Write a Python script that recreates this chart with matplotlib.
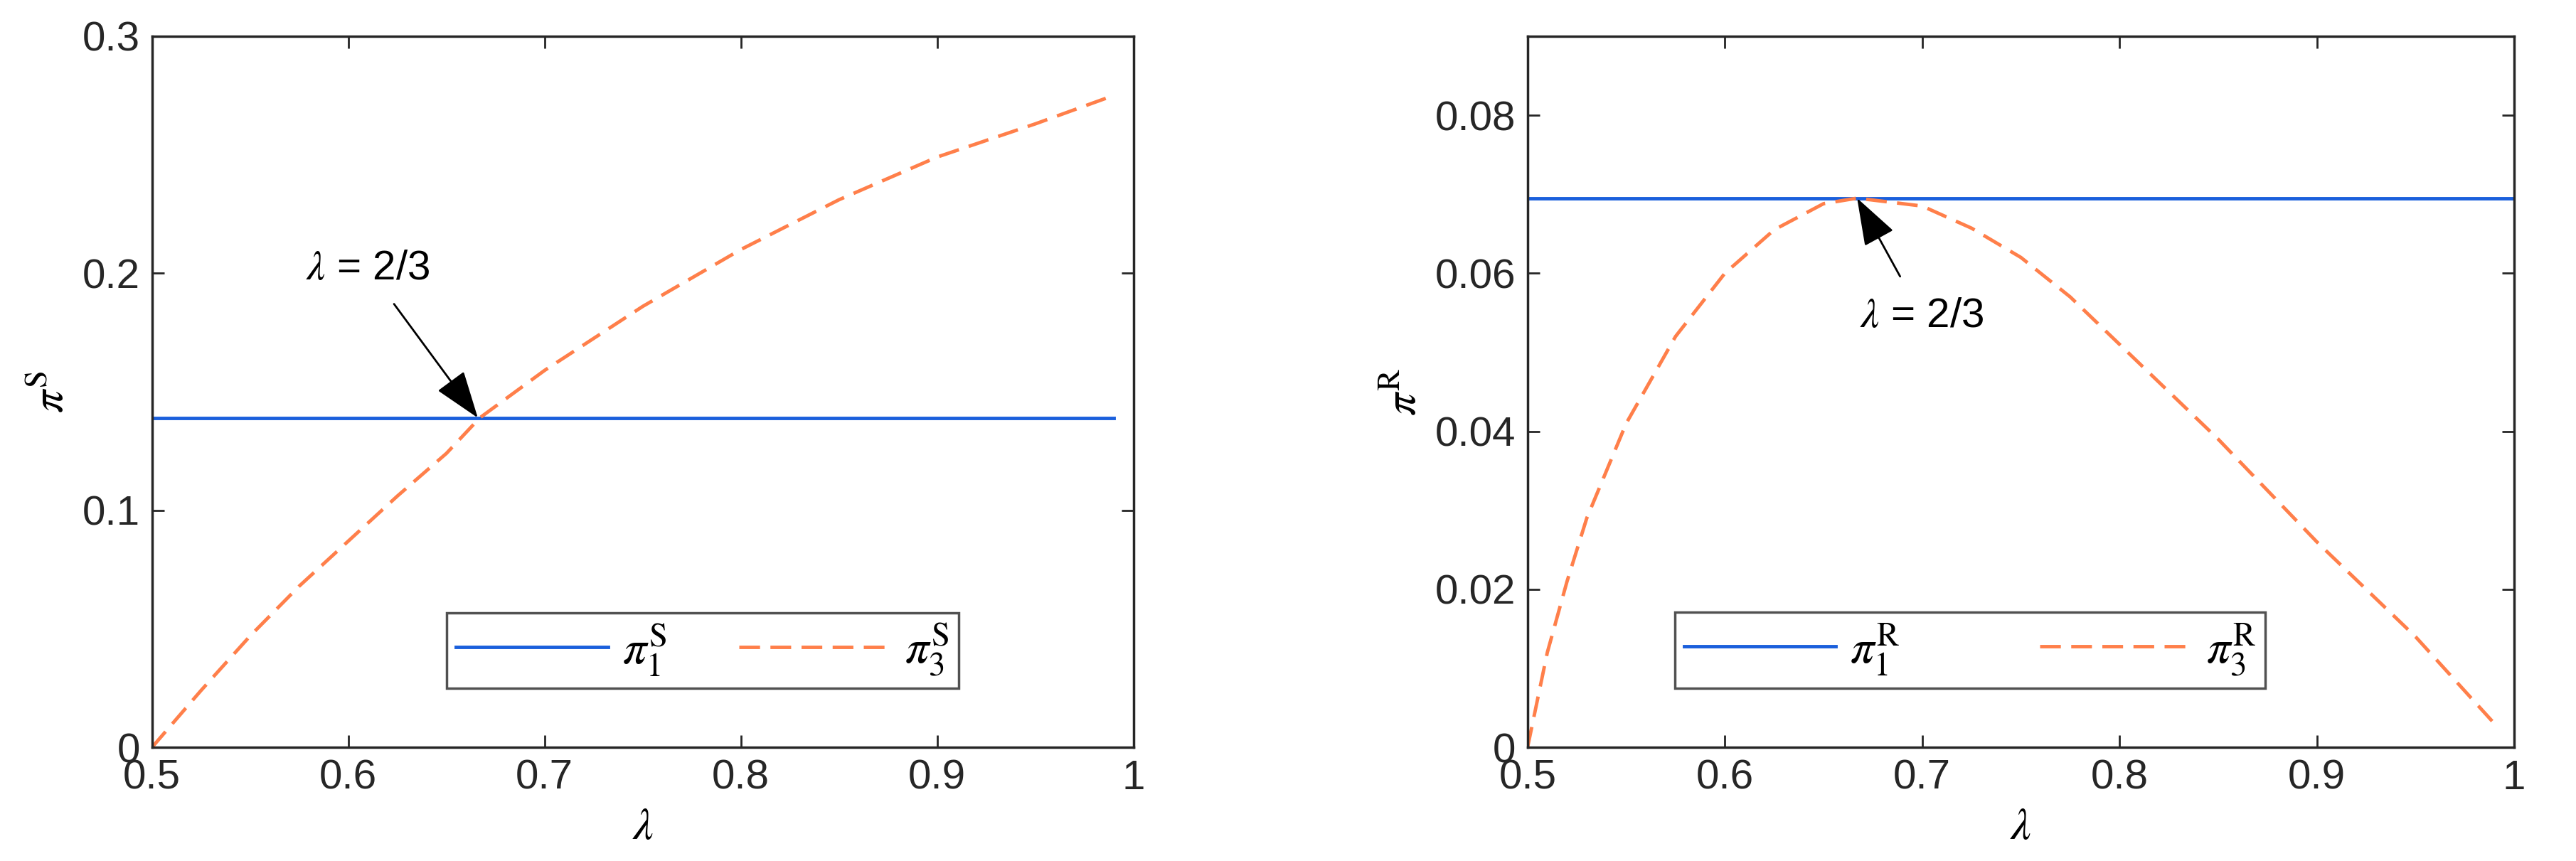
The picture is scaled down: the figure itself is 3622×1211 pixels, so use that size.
import matplotlib
matplotlib.use("Agg")
import matplotlib.pyplot as plt

lamS = [0.5, 0.525, 0.55, 0.575, 0.6, 0.625, 0.65, 0.667, 0.7, 0.75, 0.8, 0.85, 0.9, 0.95, 0.99]
piS1 = 0.139
piS3 = [0.0, 0.024, 0.047, 0.068, 0.087, 0.106, 0.124, 0.139, 0.159, 0.186, 0.210, 0.231, 0.249, 0.263, 0.275]
lamR = [0.5, 0.51, 0.52, 0.53, 0.55, 0.575, 0.6, 0.625, 0.65, 0.667, 0.7, 0.725, 0.75, 0.775, 0.8, 0.85, 0.9, 0.95, 0.99]
piR1 = 0.0695
piR3 = [0.0, 0.012, 0.021, 0.029, 0.041, 0.052, 0.060, 0.0655, 0.0688, 0.0695, 0.0685, 0.0657, 0.062, 0.057, 0.051, 0.039, 0.026, 0.014, 0.003]

blue = '#1a5fdc'
orange = '#ff7f4a'
tick_fs = 42
plt.rcParams['font.family'] = ['Liberation Sans', 'DejaVu Sans']
plt.rcParams['mathtext.fontset'] = 'stix'

fig = plt.figure(figsize=(36.22, 12.11), dpi=100)
axL = fig.add_axes([0.059, 0.132, 0.381, 0.826])
axR = fig.add_axes([0.593, 0.132, 0.383, 0.826])

def style(ax, yticks, ylim, ylabel, lgpos, labels):
    ax.set_xlim(0.5, 1)
    ax.set_ylim(*ylim)
    ax.set_xticks([0.5, 0.6, 0.7, 0.8, 0.9, 1])
    ax.set_xticklabels(['0.5', '0.6', '0.7', '0.8', '0.9', '1'])
    ax.set_yticks(yticks)
    ax.tick_params(labelsize=tick_fs, direction='in', length=12, width=2, colors='#262626',
                   top=True, right=True, pad=12)
    for s in ax.spines.values():
        s.set_linewidth(2.5)
        s.set_color('#262626')
    ax.set_xlabel(r'$\lambda$', fontsize=46, labelpad=8)
    ax.set_ylabel(ylabel, fontsize=46, labelpad=10)
    leg = ax.legend(labels, ncol=2, loc='lower left', bbox_to_anchor=lgpos, mode='expand',
                    fontsize=48, frameon=True, fancybox=False, edgecolor='#262626',
                    handlelength=3.2, borderpad=0.2, columnspacing=0.5, handletextpad=0.3)
    leg.get_frame().set_linewidth(2.5)

axL.plot([0.5, 0.99], [piS1, piS1], color=blue, lw=3.5)
axL.plot(lamS, piS3, color=orange, lw=3.5, ls=(0, (6, 3)))
style(axL, [0, 0.1, 0.2, 0.3], (0, 0.3), r'$\pi^{\mathrm{S}}$', (0.276, 0.05, 0.57, 0.116),
      [r'$\pi_1^{\mathrm{S}}$', r'$\pi_3^{\mathrm{S}}$'])
axL.set_yticklabels(['0', '0.1', '0.2', '0.3'])
axL.annotate(r'$\lambda$ = 2/3', xy=(0.666, 0.139), xytext=(0.61, 0.202), fontsize=42,
             ha='center', va='center',
             arrowprops=dict(arrowstyle='-|>,head_length=1.0,head_width=0.35', color='black',
                             lw=2, shrinkA=18, shrinkB=0))

axR.plot([0.5, 1.0], [piR1, piR1], color=blue, lw=3.5)
axR.plot(lamR, piR3, color=orange, lw=3.5, ls=(0, (6, 3)))
style(axR, [0, 0.02, 0.04, 0.06, 0.08], (0, 0.09), r'$\pi^{\mathrm{R}}$', (0.125, 0.05, 0.647, 0.116),
      [r'$\pi_1^{\mathrm{R}}$', r'$\pi_3^{\mathrm{R}}$'])
axR.set_yticklabels(['0', '0.02', '0.04', '0.06', '0.08'])
axR.annotate(r'$\lambda$ = 2/3', xy=(0.667, 0.0695), xytext=(0.70, 0.0545), fontsize=42,
             ha='center', va='center',
             arrowprops=dict(arrowstyle='-|>,head_length=1.0,head_width=0.35', color='black',
                             lw=2, shrinkA=22, shrinkB=0))

fig.savefig('out.png', dpi=100)
